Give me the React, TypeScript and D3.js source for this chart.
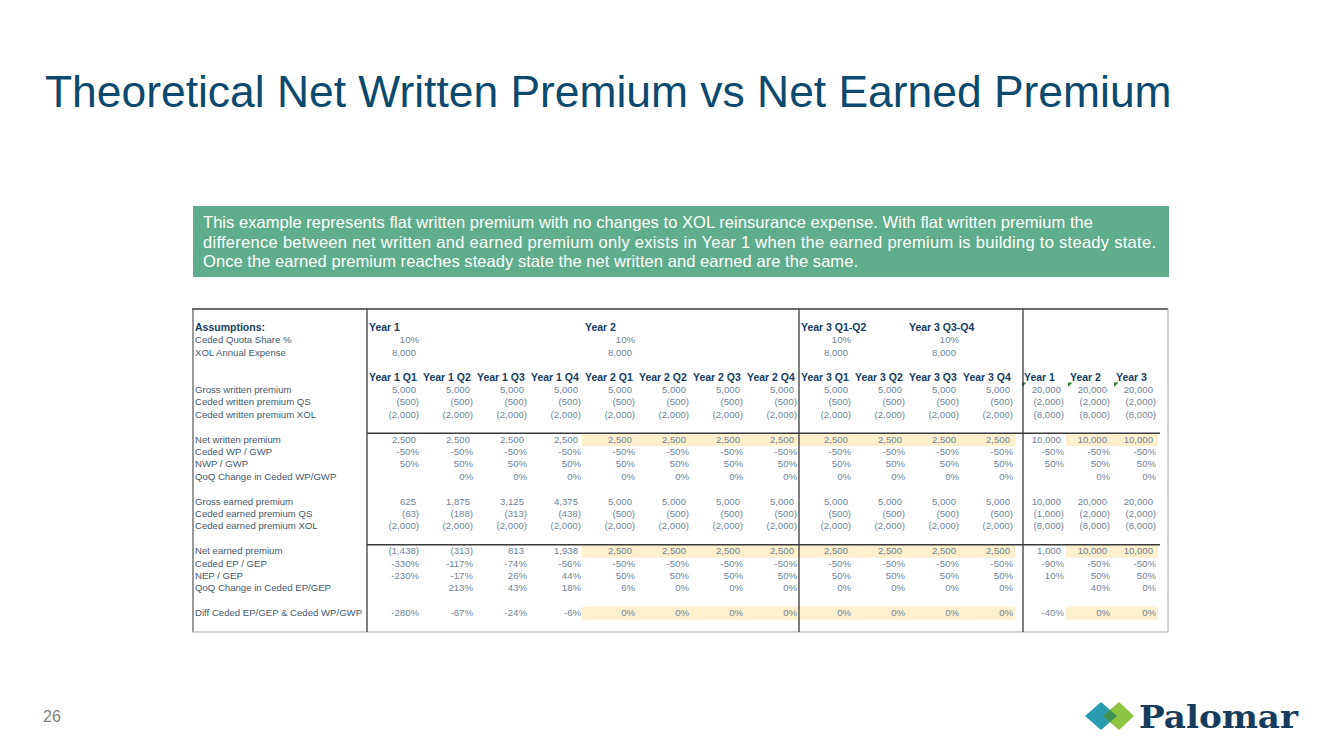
import React from 'react'
import * as d3 from 'd3'

const title = 'Theoretical Net Written Premium vs Net Earned Premium'
const noteLines = [
  'This example represents flat written premium with no changes to XOL reinsurance expense. With flat written premium the',
  'difference between net written and earned premium only exists in Year 1 when the earned premium is building to steady state.',
  'Once the earned premium reaches steady state the net written and earned are the same.',
]
const pageNumber = '26'

const quarters = [
  'Year 1 Q1', 'Year 1 Q2', 'Year 1 Q3', 'Year 1 Q4',
  'Year 2 Q1', 'Year 2 Q2', 'Year 2 Q3', 'Year 2 Q4',
  'Year 3 Q1', 'Year 3 Q2', 'Year 3 Q3', 'Year 3 Q4',
]
const years = ['Year 1', 'Year 2', 'Year 3']

// assumptions block
const assumptionPeriods = ['Year 1', 'Year 2', 'Year 3 Q1-Q2', 'Year 3 Q3-Q4']
const assumptionAnchor = ['Year 1 Q1', 'Year 2 Q1', 'Year 3 Q1', 'Year 3 Q3']
const quotaShare = [0.1, 0.1, 0.1, 0.1]
const xolExpense = [8000, 8000, 8000, 8000]

// 12 quarters followed by Year 1, Year 2, Year 3 totals
const grossWritten = [5000, 5000, 5000, 5000, 5000, 5000, 5000, 5000, 5000, 5000, 5000, 5000, 20000, 20000, 20000]
const cededWrittenQS = [-500, -500, -500, -500, -500, -500, -500, -500, -500, -500, -500, -500, -2000, -2000, -2000]
const cededWrittenXOL = [-2000, -2000, -2000, -2000, -2000, -2000, -2000, -2000, -2000, -2000, -2000, -2000, -8000, -8000, -8000]
const netWritten = [2500, 2500, 2500, 2500, 2500, 2500, 2500, 2500, 2500, 2500, 2500, 2500, 10000, 10000, 10000]
const cededWpGwp = [-0.5, -0.5, -0.5, -0.5, -0.5, -0.5, -0.5, -0.5, -0.5, -0.5, -0.5, -0.5, -0.5, -0.5, -0.5]
const nwpGwp = [0.5, 0.5, 0.5, 0.5, 0.5, 0.5, 0.5, 0.5, 0.5, 0.5, 0.5, 0.5, 0.5, 0.5, 0.5]
const qoqWp = [null, 0, 0, 0, 0, 0, 0, 0, 0, 0, 0, 0, null, 0, 0]
const grossEarned = [625, 1875, 3125, 4375, 5000, 5000, 5000, 5000, 5000, 5000, 5000, 5000, 10000, 20000, 20000]
const cededEarnedQS = [-63, -188, -313, -438, -500, -500, -500, -500, -500, -500, -500, -500, -1000, -2000, -2000]
const cededEarnedXOL = [-2000, -2000, -2000, -2000, -2000, -2000, -2000, -2000, -2000, -2000, -2000, -2000, -8000, -8000, -8000]
const netEarned = [-1438, -313, 813, 1938, 2500, 2500, 2500, 2500, 2500, 2500, 2500, 2500, 1000, 10000, 10000]
const cededEpGep = [-3.3, -1.17, -0.74, -0.56, -0.5, -0.5, -0.5, -0.5, -0.5, -0.5, -0.5, -0.5, -0.9, -0.5, -0.5]
const nepGep = [-2.3, -0.17, 0.26, 0.44, 0.5, 0.5, 0.5, 0.5, 0.5, 0.5, 0.5, 0.5, 0.1, 0.5, 0.5]
const qoqEp = [null, 2.13, 0.43, 0.18, 0.06, 0, 0, 0, 0, 0, 0, 0, null, 0.4, 0]
const diffEpWp = [-2.8, -0.67, -0.24, -0.06, 0, 0, 0, 0, 0, 0, 0, 0, -0.4, 0, 0]

const highlightQuarters = ['Year 2 Q1', 'Year 2 Q2', 'Year 2 Q3', 'Year 2 Q4', 'Year 3 Q1', 'Year 3 Q2', 'Year 3 Q3', 'Year 3 Q4']
const highlightYears = ['Year 2', 'Year 3']
const commentYears = ['Year 1', 'Year 2', 'Year 3']

const locale = d3.formatLocale({ decimal: '.', thousands: ',', grouping: [3], currency: ['$', ''], minus: '-' })
const fmtInt = locale.format(',.0f')
const fmtPct = locale.format('.0%')
const num = (v: number) => (v < 0 ? `(${fmtInt(-v)})` : fmtInt(v))

const FONT = '"Liberation Sans", Arial, Helvetica, sans-serif'
const C = {
  title: '#0b4a6e',
  head: '#163c5f',
  label: '#44586c',
  value: '#6f8498',
  line: '#3a3a3a',
  light: '#a8a8a8',
  hi: '#fdf0cc',
  note: '#5fad8d',
}
const FS = 9.6 // regular table text
const FB = 10.5 // bold headers
const noteWidths = [890, 953, 655]

type Row = { r: number; label: string; values: (number | null)[]; kind: 'num' | 'pct'; hi?: boolean }

const rows: Row[] = [
  { r: 5, label: 'Gross written premium', values: grossWritten, kind: 'num' },
  { r: 6, label: 'Ceded written premium QS', values: cededWrittenQS, kind: 'num' },
  { r: 7, label: 'Ceded written premium XOL', values: cededWrittenXOL, kind: 'num' },
  { r: 9, label: 'Net written premium', values: netWritten, kind: 'num', hi: true },
  { r: 10, label: 'Ceded WP / GWP', values: cededWpGwp, kind: 'pct' },
  { r: 11, label: 'NWP / GWP', values: nwpGwp, kind: 'pct' },
  { r: 12, label: 'QoQ Change in Ceded WP/GWP', values: qoqWp, kind: 'pct' },
  { r: 14, label: 'Gross earned premium', values: grossEarned, kind: 'num' },
  { r: 15, label: 'Ceded earned premium QS', values: cededEarnedQS, kind: 'num' },
  { r: 16, label: 'Ceded earned premium XOL', values: cededEarnedXOL, kind: 'num' },
  { r: 18, label: 'Net earned premium', values: netEarned, kind: 'num', hi: true },
  { r: 19, label: 'Ceded EP / GEP', values: cededEpGep, kind: 'pct' },
  { r: 20, label: 'NEP / GEP', values: nepGep, kind: 'pct' },
  { r: 21, label: 'QoQ Change in Ceded EP/GEP', values: qoqEp, kind: 'pct' },
  { r: 23, label: 'Diff Ceded EP/GEP & Ceded WP/GWP', values: diffEpWp, kind: 'pct', hi: true },
]

export default function App() {
  const xq = d3.scaleBand().domain(quarters).range([365, 1013])
  const xy = d3.scaleBand().domain(years).range([1018, 1156])
  const y = d3.scaleLinear().domain([0, 23]).range([331, 616.2])
  const qw = xq.bandwidth()
  const yw = xy.bandwidth()

  // right edge of a data column
  const colRight = (i: number) => (i < 12 ? xq(quarters[i])! + qw : xy(years[i - 12])! + yw)

  const top = 309
  const bottom = y(24) + 3.4
  const left = 193
  const right = 1168
  const dividers = [367, xq('Year 3 Q1')! + 2, 1023]

  const cellText = (v: number | null, kind: string) => {
    if (v == null) return ''
    return kind === 'pct' ? fmtPct(v) : num(v)
  }

  return (
    <svg width={1333} height={750} style={{ position: 'absolute', left: 0, top: 0, background: '#fff' }} fontFamily={FONT}>
      <text x={45} y={107} fontSize={44.4} fill={C.title}>{title}</text>

      <rect x={193} y={206} width={976} height={71} fill={C.note} />
      {noteLines.map((t, i) => (
        <text key={i} x={203} y={228 + i * 19.7} fontSize={16.5} fill="#fff" textLength={noteWidths[i]} lengthAdjust="spacing">{t}</text>
      ))}

      {/* highlighted cells */}
      {rows.filter(d => d.hi).map(d => (
        <g key={'hi' + d.r}>
          {highlightQuarters.map(q => (
            <rect key={q} x={xq(q)! + 1} y={y(d.r) - 9.5} width={qw + 1} height={13} fill={C.hi} />
          ))}
          {highlightYears.map(q => (
            <rect key={q} x={xy(q)! + 2} y={y(d.r) - 9.5} width={yw} height={13} fill={C.hi} />
          ))}
        </g>
      ))}

      {/* assumptions */}
      <text x={195} y={y(0)} fontSize={FB} fontWeight="bold" fill={C.head}>Assumptions:</text>
      <text x={195} y={y(1)} fontSize={FS} fill={C.label}>Ceded Quota Share %</text>
      <text x={195} y={y(2)} fontSize={FS} fill={C.label}>XOL Annual Expense</text>
      {assumptionPeriods.map((p, i) => {
        const q = assumptionAnchor[i]
        return (
          <g key={p}>
            <text x={xq(q)! + 4} y={y(0)} fontSize={FB} fontWeight="bold" fill={C.head}>{p}</text>
            <text x={xq(q)! + qw} y={y(1)} fontSize={FS} textAnchor="end" fill={C.value}>{fmtPct(quotaShare[i])}</text>
            <text x={xq(q)! + qw - 3} y={y(2)} fontSize={FS} textAnchor="end" fill={C.value}>{num(xolExpense[i])}</text>
          </g>
        )
      })}

      {/* column headers */}
      {quarters.map(q => (
        <text key={q} x={xq(q)! + 4} y={y(4)} fontSize={FB} fontWeight="bold" fill={C.head}>{q}</text>
      ))}
      {years.map(q => (
        <text key={q} x={xy(q)! + 6} y={y(4)} fontSize={FB} fontWeight="bold" fill={C.head}>{q}</text>
      ))}
      {commentYears.map(q => (
        <path key={'c' + q} d={`M${xy(q)! + 4},${y(4) + 2}h4.5l-4.5,4.5z`} fill="#2f7d32" />
      ))}

      {/* body rows */}
      {rows.map(d => (
        <g key={d.r}>
          <text x={195} y={y(d.r)} fontSize={FS} fill={C.label}>{d.label}</text>
          {d.values.map((v, i) => {
            const pad = d.kind === 'num' && v != null && v >= 0 ? 3 : 0
            return (
              <text key={i} x={colRight(i) - pad} y={y(d.r)} fontSize={FS} textAnchor="end" fill={C.value}>
                {cellText(v, d.kind)}
              </text>
            )
          })}
        </g>
      ))}

      {/* grid */}
      <line x1={left - 1} x2={right} y1={top} y2={top} stroke={C.line} strokeWidth={1.5} />
      <line x1={left} x2={left} y1={top} y2={bottom} stroke="#555" strokeWidth={1.2} />
      <line x1={right} x2={right} y1={top} y2={bottom} stroke={C.light} strokeWidth={1} />
      <line x1={left - 1} x2={right} y1={bottom} y2={bottom} stroke={C.light} strokeWidth={1.2} />
      {[8, 17].map(r => (
        <line key={r} x1={367} x2={colRight(14) + 4} y1={y(r) + 3} y2={y(r) + 3} stroke={C.line} strokeWidth={1.5} />
      ))}
      {dividers.map(x => (
        <line key={x} x1={x} x2={x} y1={top} y2={bottom} stroke={C.line} strokeWidth={1.3} />
      ))}

      <text x={43} y={722} fontSize={16} fill="#7f7f7f">{pageNumber}</text>

      {/* logo */}
      <g>
        <polygon points="1085,716 1101,702 1117,716 1101,730" fill="#2a9bb0" />
        <polygon points="1103,716 1119,702 1134,716 1119,730" fill="#8cc43f" />
        <polygon points="1103,716 1110,709.9 1117,716 1110,722.1" fill="#3c8f55" />
        <text x={1139} y={728} fontSize={32} fontWeight="bold" fontFamily='"DejaVu Serif", serif' fill="#173b5c" textLength={159} lengthAdjust="spacingAndGlyphs">Palomar</text>
      </g>
    </svg>
  )
}
